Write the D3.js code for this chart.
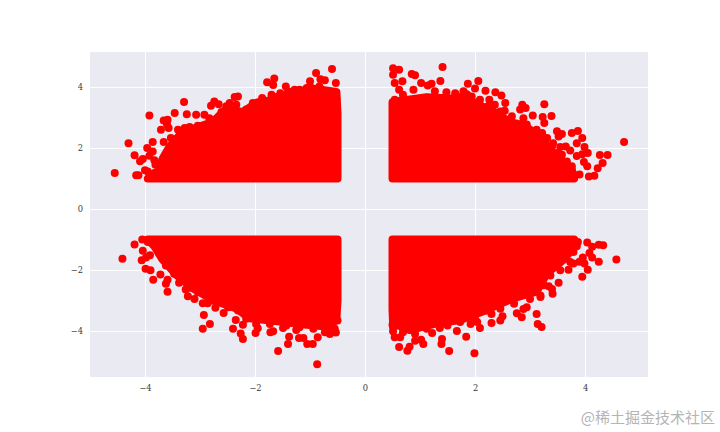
<!DOCTYPE html>
<html><head><meta charset="utf-8">
<script src="https://cdn.jsdelivr.net/npm/d3@7"></script>
<style>
html,body{margin:0;padding:0;background:#fff}
svg{display:block}
.tick text{font-family:"DejaVu Serif",serif;font-size:8.3px;fill:#3a3a3a}
</style></head><body>
<svg id="c" width="720" height="432"></svg>
<script>
const xTicks=[-4,-2,0,2,4];
const yTicks=[-4,-2,0,2,4];
const watermark="@稀土掘金技术社区";

// Dense (fully overplotted) regions: outline of the point centres, [x,y]
const denseUpperLeft=[[-3.95,1],[-3.74,1.27],[-3.68,1.65],[-3.56,2.03],[-3.37,2.42],[-3.13,2.63],[-2.77,2.85],[-2.52,3.29],[-2.22,3.18],[-2.04,3.4],[-1.55,3.67],[-1.25,3.84],[-0.94,3.95],[-0.52,3.84],[-0.5,3.13],[-0.5,1]];
const denseUpperRight=[[0.5,1],[0.5,3.5],[0.69,3.56],[1.12,3.67],[1.67,3.62],[1.85,3.77],[1.97,3.5],[2.33,3.2],[2.64,2.85],[2.88,2.75],[3.19,2.37],[3.37,1.95],[3.49,1.7],[3.76,1.3],[3.8,1]];
const denseLowerLeft=[[-3.95,-1],[-3.83,-1.22],[-3.68,-1.66],[-3.43,-2.16],[-3.13,-2.6],[-2.77,-2.98],[-2.34,-3.26],[-2.1,-3.58],[-1.55,-3.69],[-1.06,-3.8],[-0.64,-3.86],[-0.52,-3.6],[-0.5,-3.0],[-0.5,-1]];
const denseLowerRight=[[0.5,-1],[0.5,-3.3],[0.51,-3.75],[0.81,-3.97],[1.3,-3.75],[1.73,-3.64],[2.21,-3.31],[2.7,-2.92],[3.12,-2.71],[3.31,-2.1],[3.61,-1.66],[3.76,-1.33],[3.8,-1]];

// Individually visible points, [x,y]
const pointsUpperLeft=[[-4.55,1.18],[-4.3,2.16],[-4.19,1.76],[-4.16,1.11],[-4.12,1.11],[-4.09,1.57],[-4.04,1.64],[-3.92,3.07],[-3.96,2],[-3.86,2.2],[-3.86,1.89],[-3.92,1.75],[-3.83,1.6],[-4,1.27],[-3.81,1.45],[-3.89,1.05],[-3.71,2.6],[-3.66,2.9],[-3.59,2.93],[-3.6,2.77],[-3.57,2.66],[-3.66,2.2],[-3.46,3.15],[-3.29,3.51],[-3.24,3.11],[-3.07,3.09],[-3.53,2.33],[-3.4,2.6],[-2.8,3.39],[-2.74,3.53],[-2.66,3.44],[-2.61,3.18],[-2.37,3.67],[-2.31,3.69],[-1.87,3.64],[-1.78,4.16],[-1.65,4.28],[-1.67,4.07],[-1.7,3.75],[-1.54,3.8],[-1.44,4.02],[-1.28,3.91],[-1,4.19],[-0.89,4.46],[-0.81,4.26],[-0.73,4.22],[-0.6,4.59],[-0.53,4.13],[-0.83,4.02],[-1,4.02]];
const edgeUpperLeft=[[-3.95,1.23],[-3.83,1.18],[-3.74,1.02],[-3.6,1.78],[-3.54,2],[-3.43,2.27],[-3.28,2.66],[-3.19,2.69],[-3.04,2.73],[-2.92,3.09],[-2.83,2.98],[-2.52,3.37],[-2.46,3.48],[-2.34,3.42],[-2.16,3.26],[-2.04,3.48],[-1.95,3.5],[-1.61,3.67],[-1.4,3.86],[-1.19,3.91],[-1.06,3.97],[-0.82,3.97],[-0.58,3.8],[-0.52,3.58]];
const pointsUpperRight=[[0.51,4.62],[0.62,4.57],[0.51,4.4],[0.85,4.43],[0.91,4.39],[1.41,4.66],[1.37,4.2],[0.54,4.13],[0.68,4.19],[0.62,3.91],[1.02,4.13],[1.21,4.11],[1.14,4.05],[2.06,4.2],[1.87,4.11],[2,3.95],[2.19,3.88],[2.37,3.83],[2.48,3.72],[2.55,3.48],[2.26,3.58],[2.36,3.42],[2.54,3.22],[2.86,3.42],[2.92,3.31],[2.82,3.26],[3.26,3.44],[3.05,3.07],[3.39,3.05],[3.23,3.02],[3.26,2.82],[3.49,2.55],[3.58,2.46],[3.52,2.38],[3.76,2.49],[3.87,2.56],[3.95,2.33],[3.85,2.16],[3.99,2.03],[4.05,1.84],[3.95,1.8],[3.85,1.74],[4.71,2.2],[4.27,1.77],[4.41,1.77],[4.32,1.51],[4.23,1.34],[3.98,1.54],[4.04,1.4],[4.17,1.09],[4.07,1.07],[3.9,1.13],[3.65,2.05],[3.73,1.92],[3.55,2.03],[3.42,2.16]];
const edgeUpperRight=[[0.54,3.58],[0.69,3.75],[0.88,3.91],[1.27,3.86],[1.48,3.83],[1.64,3.8],[1.79,3.86],[1.94,3.69],[2.09,3.58],[2.24,3.37],[2.46,3.2],[2.67,3.04],[2.88,2.98],[2.94,2.77],[3.12,2.6],[3.22,2.49],[3.31,2.33],[3.4,2.05],[3.49,1.84],[3.58,1.78],[3.67,1.56],[3.76,1.4],[3.79,1.13],[3.67,1.09]];
const pointsLowerLeft=[[-4.41,-1.63],[-4.19,-1.16],[-4.05,-1],[-4.04,-1.37],[-3.91,-1.52],[-3.98,-1.59],[-4.06,-1.68],[-3.99,-1.96],[-3.9,-2.01],[-3.85,-2.32],[-3.72,-2.15],[-3.59,-2.32],[-3.62,-2.45],[-3.59,-2.71],[-3.26,-2.64],[-3.22,-2.86],[-3.1,-2.95],[-2.95,-3.09],[-2.86,-3.09],[-2.93,-3.48],[-2.82,-3.77],[-2.95,-3.93],[-2.72,-3.24],[-2.57,-3.41],[-2.4,-3.93],[-2.35,-3.64],[-2.22,-3.8],[-2.26,-4.08],[-2.22,-4.26],[-1.99,-4.07],[-1.95,-3.91],[-1.72,-4.04],[-1.67,-4.01],[-1.58,-4.66],[-1.38,-4.19],[-1.4,-4.43],[-1.2,-4.23],[-1.12,-4.23],[-1.05,-4.43],[-0.95,-4.43],[-0.87,-5.09],[-0.86,-4.21],[-1.25,-3.97],[-1.49,-3.9],[-0.64,-4.1],[-0.53,-4.05]];
const edgeLowerLeft=[[-3.95,-1.08],[-3.83,-1.19],[-3.74,-1.46],[-3.62,-1.85],[-3.47,-2.12],[-3.38,-2.42],[-3.19,-2.58],[-3.04,-2.73],[-2.77,-3],[-2.49,-3.22],[-2.31,-3.33],[-2.16,-3.6],[-1.98,-3.77],[-1.73,-3.77],[-1.43,-3.82],[-1.19,-3.88],[-0.94,-3.93],[-0.73,-4.04],[-0.55,-3.93],[-0.5,-3.66]];
const pointsLowerRight=[[4.57,-1.66],[4.33,-1.19],[4.25,-1.17],[4.04,-1.1],[4.13,-1.24],[4.08,-1.44],[4.13,-1.59],[4.25,-1.73],[4.05,-1.99],[3.95,-2.22],[3.96,-1.59],[3.9,-1.73],[3.99,-1.79],[3.87,-1.08],[3.85,-1.22],[3.79,-1.79],[3.7,-1.99],[3.52,-2.42],[3.41,-2.78],[3.34,-2.53],[3.4,-2.62],[3.19,-2.89],[3.12,-3.44],[3.14,-3.77],[3.21,-3.87],[2.94,-3.22],[2.88,-3.28],[2.85,-3.55],[2.76,-3.42],[2.71,-3.11],[2.5,-3.52],[2.46,-3.66],[2.3,-3.74],[2.3,-3.44],[2.09,-3.9],[2.04,-3.71],[1.92,-3.77],[1.84,-4.19],[1.99,-4.73],[1.67,-4],[1.53,-4.66],[1.4,-4.26],[1.39,-4.43],[1.22,-4.07],[1.06,-4.43],[1.02,-4.29],[0.91,-4.32],[0.81,-4.52],[0.77,-4.65],[0.62,-4.53],[0.64,-4.21],[0.54,-4.21],[0.51,-4.01],[0.5,-3.8],[1.5,-3.82],[1.36,-3.9]];
const edgeLowerRight=[[0.51,-3.88],[0.69,-4.04],[0.91,-4.1],[1.12,-3.93],[1.36,-3.82],[1.54,-3.66],[1.73,-3.71],[2,-3.6],[2.21,-3.33],[2.46,-3.27],[2.7,-3],[3,-2.95],[3.19,-2.84],[3.25,-2.5],[3.37,-2.18],[3.55,-2.01],[3.73,-1.74],[3.79,-1.41],[3.82,-1.13]];

const left=90,right=648,top_=52,bottom=377;
const svg=d3.select("#c");
const x=d3.scaleLinear().domain([-5.0,5.145]).range([left,right]);
const y=d3.scaleLinear().domain([-5.51,5.15]).range([bottom,top_]);
const RED="#ff0000", R=4;

svg.append("rect").attr("x",left).attr("y",top_).attr("width",right-left).attr("height",bottom-top_).attr("fill","#eaeaf2");

const gx=svg.append("g").attr("transform",`translate(0,${bottom})`)
  .call(d3.axisBottom(x).tickValues(xTicks).tickSize(-(bottom-top_)).tickPadding(8));
const gy=svg.append("g").attr("transform",`translate(${left},0)`)
  .call(d3.axisLeft(y).tickValues(yTicks).tickSize(-(right-left)).tickPadding(7));
[gx,gy].forEach(g=>{
  g.select(".domain").remove();
  g.selectAll(".tick line").attr("stroke","#fff").attr("stroke-width",1);
});

const outline=d3.line().x(d=>x(d[0])).y(d=>y(d[1]));
svg.append("g").selectAll("path")
  .data([denseUpperLeft,denseUpperRight,denseLowerLeft,denseLowerRight])
  .join("path")
  .attr("d",d=>outline(d)+"Z")
  .attr("fill",RED).attr("stroke",RED).attr("stroke-width",2*R).attr("stroke-linejoin","round");

svg.append("g").selectAll("circle")
  .data([...pointsUpperLeft,...edgeUpperLeft,...pointsUpperRight,...edgeUpperRight,...pointsLowerLeft,...edgeLowerLeft,...pointsLowerRight,...edgeLowerRight])
  .join("circle")
  .attr("cx",d=>x(d[0])).attr("cy",d=>y(d[1])).attr("r",R).attr("fill",RED);

svg.append("text").attr("x",715).attr("y",423).attr("text-anchor","end")
  .attr("font-family",'"Noto Sans CJK SC",sans-serif').attr("font-size",15)
  .attr("fill","#b4b4b4").text(watermark);
</script>
</body></html>
